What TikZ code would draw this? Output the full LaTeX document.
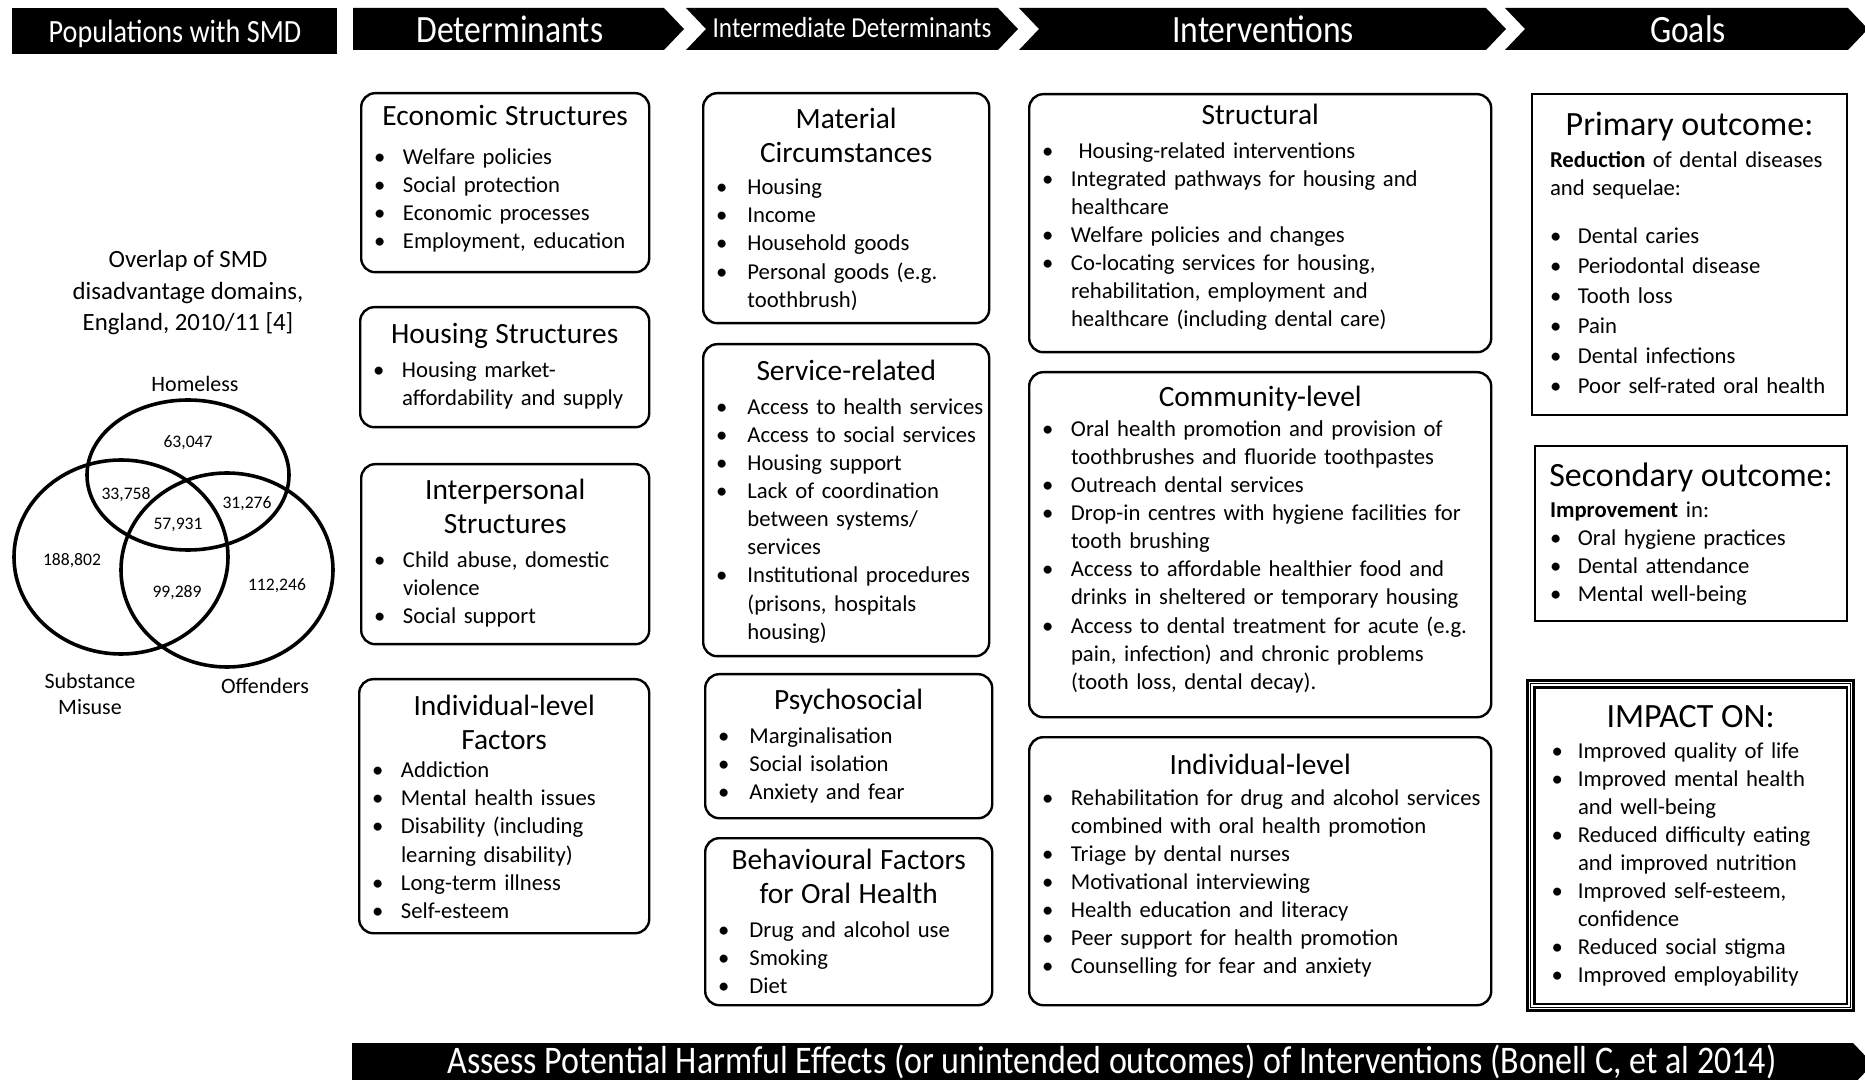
\documentclass[tikz,border=0pt]{standalone}
\usepackage{fontspec}
\usepackage{graphicx}
\setmainfont{Carlito}
\usetikzlibrary{positioning}

\hyphenpenalty=10000
\exhyphenpenalty=10000
\newlength{\itmskip}
\setlength{\itmskip}{16.5pt}
\newlength{\bulw}
\setlength{\bulw}{14.4pt}
% box titles, bullet items, header text
\newcommand{\ttl}[2][2.8pt]{{\centering\fontsize{14.7}{17}\selectfont #2\par}\vspace{#1}}
\newcommand{\gttl}[2][2pt]{{\centering\fontsize{17}{20}\selectfont #2\par}\vspace{#1}}
\newcommand{\itm}[1]{{\leftskip=\itmskip\noindent\hangindent=\bulw\hangafter=1\makebox[\bulw][l]{\textbullet}#1\par}}
\newcommand{\hd}[1]{\scalebox{1}[1.15]{#1}}

\tikzset{
  card/.style={draw, line width=1.2pt, rounded corners=7pt, anchor=north west, inner sep=0pt},
  goalbox/.style={draw, line width=1pt, anchor=north west, inner sep=0pt},
  cardtext/.style={inner sep=0pt, align=left, font=\fontsize{11.35}{14.05}\selectfont},
  head/.style={text=white, inner sep=0pt, font=\fontsize{16.8}{20}\selectfont},
  venn/.style={line width=1.8pt},
  num/.style={inner sep=0pt, font=\fontsize{8.8}{10}\selectfont},
  vlabel/.style={inner sep=0pt, align=center, font=\fontsize{11}{13}\selectfont},
}

\begin{document}
\begin{tikzpicture}[x=0.5pt, y=-0.5pt]
\useasboundingbox (0,0) rectangle (1865,1080);
\clip (0,0) rectangle (1865,1080);

% header band
\fill (12,8) rectangle (337,54);
\foreach \xl/\xr/\nt in {353/664/0, 686/998/20, 1019/1486/20, 1505/1848/20}
  \fill (\xl,8) -- (\xr,8) -- ({\xr+20},29) -- (\xr,50) -- (\xl,50) -- ({\xl+\nt},29) -- cycle;
\node[head, font=\fontsize{14.1}{16}\selectfont] (pop) at (175,34) {\hd{Populations with SMD}};
\node[head] (det) at (510,29) {\hd{Determinants}};
\node[head, font=\fontsize{12.6}{15}\selectfont] (inter) at (852,28) {\hd{Intermediate Determinants}};
\node[head] (interv) at (1263,29) {\hd{Interventions}};
\node[head] (goals) at (1688,29) {\hd{Goals}};

% venn diagram
\node[align=center, inner sep=0pt, font=\fontsize{12.4}{15.75}\selectfont] (venntitle) at (188,293)
  {Overlap of SMD\\disadvantage domains,\\England, 2010/11 [4]};
\draw[venn] (188,475) ellipse [x radius=50.5pt, y radius=37.5pt];
\draw[venn] (121,557) ellipse [x radius=53.5pt, y radius=48.5pt];
\draw[venn] (227,570) ellipse [x radius=53pt, y radius=48.5pt];
\node[vlabel] (homeless) at (195,384) {Homeless};
\node[vlabel] (substance) at (90,694) {Substance\\Misuse};
\node[vlabel] (offenders) at (265,686) {Offenders};
\node[num] (n1) at (188,443) {63,047};
\node[num] (n2) at (126,495) {33,758};
\node[num] (n3) at (247,504) {31,276};
\node[num] (n4) at (178,525) {57,931};
\node[num] (n5) at (72,561) {188,802};
\node[num] (n6) at (177,593) {99,289};
\node[num] (n7) at (277,586) {112,246};

% determinants
\node[card, minimum width=144pt, minimum height=89.5pt] (econ) at (360,92) {};
\node[cardtext, text width=164pt, below=6.4pt of econ.north] (econ-t)
  {\ttl[5.3pt]{Economic Structures}\itm{Welfare policies}\itm{Social protection}\itm{Economic processes}\itm{Employment, education}};
\node[card, minimum width=144.5pt, minimum height=60pt] (housing) at (359,306) {};
\node[cardtext, text width=164.5pt, below=8.4pt of housing.north] (housing-t)
  {\ttl{Housing Structures}\itm{Housing market-\newline affordability and supply}};
\node[card, minimum width=144pt, minimum height=90pt] (interp) at (360,463) {};
\node[cardtext, text width=164pt, below=7.9pt of interp.north] (interp-t)
  {\ttl{Interpersonal\\Structures}\itm{Child abuse, domestic\newline violence}\itm{Social support}};
\node[card, minimum width=145pt, minimum height=127pt] (indiv) at (358,678) {};
\node[cardtext, text width=165pt, below=8.4pt of indiv.north] (indiv-t)
  {\ttl[0pt]{Individual-level\\Factors}\itm{Addiction}\itm{Mental health issues}\itm{Disability (including\newline learning disability)}\itm{Long-term illness}\itm{Self-esteem}};

% intermediate determinants
\node[card, minimum width=143pt, minimum height=115pt] (material) at (702,92) {};
\node[cardtext, text width=163pt, below=7.9pt of material.north] (material-t)
  {\setlength{\bulw}{15.6pt}\ttl[2pt]{Material\\Circumstances}\itm{Housing}\itm{Income}\itm{Household goods}\itm{Personal goods (e.g.\newline toothbrush)}};
\node[card, minimum width=143pt, minimum height=156pt] (service) at (702,343) {};
\node[cardtext, text width=163pt, below=8.4pt of service.north] (service-t)
  {\setlength{\bulw}{15.6pt}\ttl{Service-related}\itm{Access to health services}\itm{Access to social services}\itm{Housing support}\itm{Lack of coordination\newline between systems/\newline services}\itm{Institutional procedures\newline (prisons, hospitals\newline housing)}};
\node[card, minimum width=143.5pt, minimum height=72pt] (psycho) at (704,673) {};
\node[cardtext, text width=163.5pt, below=7.9pt of psycho.north] (psycho-t)
  {\setlength{\bulw}{15.6pt}\ttl{Psychosocial}\itm{Marginalisation}\itm{Social isolation}\itm{Anxiety and fear}};
\node[card, minimum width=143.5pt, minimum height=83.5pt] (behav) at (704,837) {};
\node[cardtext, text width=163.5pt, below=5.9pt of behav.north] (behav-t)
  {\setlength{\bulw}{15.6pt}\ttl{Behavioural Factors\\for Oral Health}\itm{Drug and alcohol use}\itm{Smoking}\itm{Diet}};

% interventions
\node[card, minimum width=231pt, minimum height=129pt] (struct) at (1028,93) {};
\node[cardtext, text width=251pt, below=5.4pt of struct.north] (struct-t)
  {\ttl{Structural}\itm{\ Housing-related interventions}\itm{Integrated pathways for housing and\newline healthcare}\itm{Welfare policies and changes}\itm{Co-locating services for housing,\newline rehabilitation, employment and\newline healthcare (including dental care)}};
\node[card, minimum width=231pt, minimum height=172.5pt] (community) at (1028,371) {};
\node[cardtext, text width=251pt, below=7.4pt of community.north] (community-t)
  {\ttl[0.8pt]{Community-level}\itm{Oral health promotion and provision of\newline toothbrushes and fluoride toothpastes}\itm{Outreach dental services}\itm{Drop-in centres with hygiene facilities for\newline tooth brushing}\itm{Access to affordable healthier food and\newline drinks in sheltered or temporary housing}\itm{Access to dental treatment for acute (e.g.\newline pain, infection) and chronic problems\newline (tooth loss, dental decay).}};
\node[card, minimum width=231pt, minimum height=134pt] (indlevel) at (1028,736) {};
\node[cardtext, text width=251pt, below=8.9pt of indlevel.north] (indlevel-t)
  {\ttl[1.3pt]{Individual-level}\itm{Rehabilitation for drug and alcohol services\newline combined with oral health promotion}\itm{Triage by dental nurses}\itm{Motivational interviewing}\itm{Health education and literacy}\itm{Peer support for health promotion}\itm{Counselling for fear and anxiety}};

% goals
\node[goalbox, minimum width=157.5pt, minimum height=160.5pt] (primary) at (1531,93) {};
\node[cardtext, text width=177.5pt, below=9.5pt of primary.north] (primary-t)
  {\setlength{\itmskip}{19.1pt}\setlength{\bulw}{13.8pt}\gttl{Primary outcome:}{\leftskip=19pt \textbf{Reduction} of dental diseases\newline and sequelae:\par}\vspace{8.6pt}%
   \fontsize{11.35}{15}\selectfont\itm{Dental caries}\itm{Periodontal disease}\itm{Tooth loss}\itm{Pain}\itm{Dental infections}\itm{Poor self-rated oral health}};
\node[goalbox, minimum width=156pt, minimum height=87.5pt] (secondary) at (1534,445) {};
\node[cardtext, text width=176pt, below=8.6pt of secondary.north] (secondary-t)
  {\setlength{\itmskip}{17.6pt}\setlength{\bulw}{13.8pt}\gttl[1.5pt]{Secondary outcome:}{\leftskip=17.5pt \textbf{Improvement} in:\par}%
   \itm{Oral hygiene practices}\itm{Dental attendance}\itm{Mental well-being}};
\node[goalbox, line width=1.6pt, minimum width=163pt, minimum height=165pt] (impact) at (1526,679) {};
\draw[line width=0.4pt] ([xshift=2.3pt,yshift=-2.3pt]impact.north west) rectangle ([xshift=-2.3pt,yshift=2.3pt]impact.south east);
\draw[line width=1.1pt] ([xshift=4.2pt,yshift=-4.2pt]impact.north west) rectangle ([xshift=-4.2pt,yshift=4.2pt]impact.south east);
\node[cardtext, text width=183pt, below=13pt of impact.north] (impact-t)
  {\setlength{\itmskip}{22pt}\setlength{\bulw}{13.2pt}\gttl[1.5pt]{IMPACT ON:}\fontsize{11.35}{14}\selectfont\itm{Improved quality of life}\itm{Improved mental health\newline and well-being}\itm{Reduced difficulty eating\newline and improved nutrition}\itm{Improved self-esteem,\newline confidence}\itm{Reduced social stigma}\itm{Improved employability}};

% harmful effects bar
\fill (352,1043) -- (1853,1043) -- (1873,1064) -- (1853,1085) -- (352,1085) -- cycle;
\node[head, font=\fontsize{17}{20}\selectfont] (harm) at (1112,1062)
  {\hd{Assess Potential Harmful Effects (or unintended outcomes) of Interventions (Bonell C, et al 2014)}};
\end{tikzpicture}
\end{document}
